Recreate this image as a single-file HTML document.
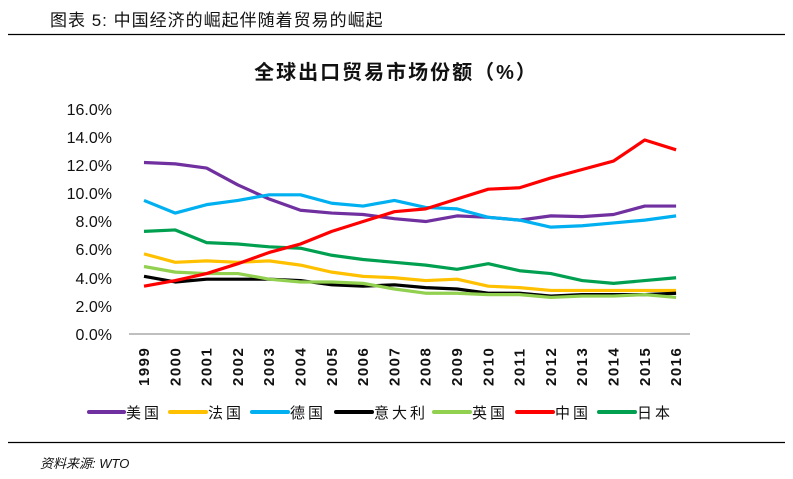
<!DOCTYPE html>
<html><head><meta charset="utf-8"><style>
body{margin:0;background:#fff;width:793px;height:474px;overflow:hidden}
svg text{font-family:"Liberation Sans","Noto Sans CJK SC",sans-serif}
</style></head><body>
<svg width="793" height="474" xmlns="http://www.w3.org/2000/svg">
<text x="50" y="26" font-size="17" fill="#111" letter-spacing="1" font-family="'Noto Sans CJK SC',sans-serif">图表 5:  中国经济的崛起伴随着贸易的崛起</text>
<line x1="8" y1="34.5" x2="785" y2="34.5" stroke="#000" stroke-width="1.3"/>
<text x="396" y="79" font-size="20" text-anchor="middle" fill="#111" font-weight="bold" letter-spacing="2" font-family="'Noto Sans CJK SC',sans-serif">全球出口贸易市场份额（%）</text>
<g font-size="16" fill="#111" text-anchor="end">
<text x="112" y="115">16.0%</text><text x="112" y="143">14.0%</text><text x="112" y="171">12.0%</text><text x="112" y="199">10.0%</text><text x="112" y="227">8.0%</text><text x="112" y="255">6.0%</text><text x="112" y="284">4.0%</text><text x="112" y="312">2.0%</text><text x="112" y="340">0.0%</text>
</g>
<line x1="129" y1="334" x2="690" y2="334" stroke="#bfbfbf" stroke-width="2"/>
<g id="yrs" font-size="15" font-weight="bold" fill="#111"></g>
<g id="lines" fill="none" stroke-width="3.2" stroke-linejoin="round"></g>
<g font-size="15" fill="#111" letter-spacing="3" font-family="'Noto Sans CJK SC',sans-serif">
<line x1="89" y1="412" x2="124" y2="412" stroke="#7030a0" stroke-width="4" stroke-linecap="round"/><text x="126" y="418">美国</text>
<line x1="170" y1="412" x2="206" y2="412" stroke="#ffc000" stroke-width="4" stroke-linecap="round"/><text x="208" y="418">法国</text>
<line x1="252" y1="412" x2="288" y2="412" stroke="#00b0f0" stroke-width="4" stroke-linecap="round"/><text x="290" y="418">德国</text>
<line x1="336" y1="412" x2="372" y2="412" stroke="#000" stroke-width="4" stroke-linecap="round"/><text x="374" y="418">意大利</text>
<line x1="434" y1="412" x2="470" y2="412" stroke="#92d050" stroke-width="4" stroke-linecap="round"/><text x="472" y="418">英国</text>
<line x1="517" y1="412" x2="553" y2="412" stroke="#ff0000" stroke-width="4" stroke-linecap="round"/><text x="555" y="418">中国</text>
<line x1="599" y1="412" x2="635" y2="412" stroke="#00a050" stroke-width="4" stroke-linecap="round"/><text x="637" y="418">日本</text>
</g>
<line x1="8" y1="442.5" x2="785" y2="442.5" stroke="#000" stroke-width="1.3"/>
<text x="40" y="468" font-size="13" font-style="italic" fill="#111" font-family="'Noto Sans CJK SC',sans-serif">资料来源: <tspan font-family="'Liberation Sans',sans-serif">WTO</tspan></text>
</svg>
<script>
const d={"#7030a0":[12.2,12.1,11.8,10.6,9.6,8.8,8.6,8.5,8.2,8.0,8.4,8.3,8.1,8.4,8.35,8.5,9.1,9.1],
"#ffc000":[5.7,5.1,5.2,5.1,5.2,4.9,4.4,4.1,4.0,3.8,3.9,3.4,3.3,3.1,3.1,3.1,3.1,3.1],
"#00b0f0":[9.5,8.6,9.2,9.5,9.9,9.9,9.3,9.1,9.5,9.0,8.9,8.3,8.1,7.6,7.7,7.9,8.1,8.4],
"#000000":[4.1,3.7,3.9,3.9,3.9,3.8,3.5,3.4,3.5,3.3,3.2,2.9,2.9,2.7,2.8,2.8,2.8,2.9],
"#92d050":[4.8,4.4,4.3,4.3,3.9,3.7,3.7,3.6,3.2,2.9,2.9,2.8,2.8,2.6,2.7,2.7,2.8,2.6],
"#00a050":[7.3,7.4,6.5,6.4,6.2,6.1,5.6,5.3,5.1,4.9,4.6,5.0,4.5,4.3,3.8,3.6,3.8,4.0],
"#ff0000":[3.4,3.8,4.3,5.0,5.8,6.4,7.3,8.0,8.7,8.9,9.6,10.3,10.4,11.1,11.7,12.3,13.8,13.1]};
const ns="http://www.w3.org/2000/svg",g=document.getElementById("lines"),yg=document.getElementById("yrs");
const X=i=>144+i*31.3,Y=v=>334-v*14.06;
for(const c in d){const p=document.createElementNS(ns,"polyline");p.setAttribute("points",d[c].map((v,i)=>X(i)+","+Y(v)).join(" "));p.setAttribute("stroke",c);g.appendChild(p);}
for(let i=0;i<18;i++){const t=document.createElementNS(ns,"text");t.setAttribute("transform","translate("+(X(i)+5)+",386) rotate(-90)");t.setAttribute("letter-spacing","1.5");t.textContent=1999+i;yg.appendChild(t);}
</script>
</body></html>
